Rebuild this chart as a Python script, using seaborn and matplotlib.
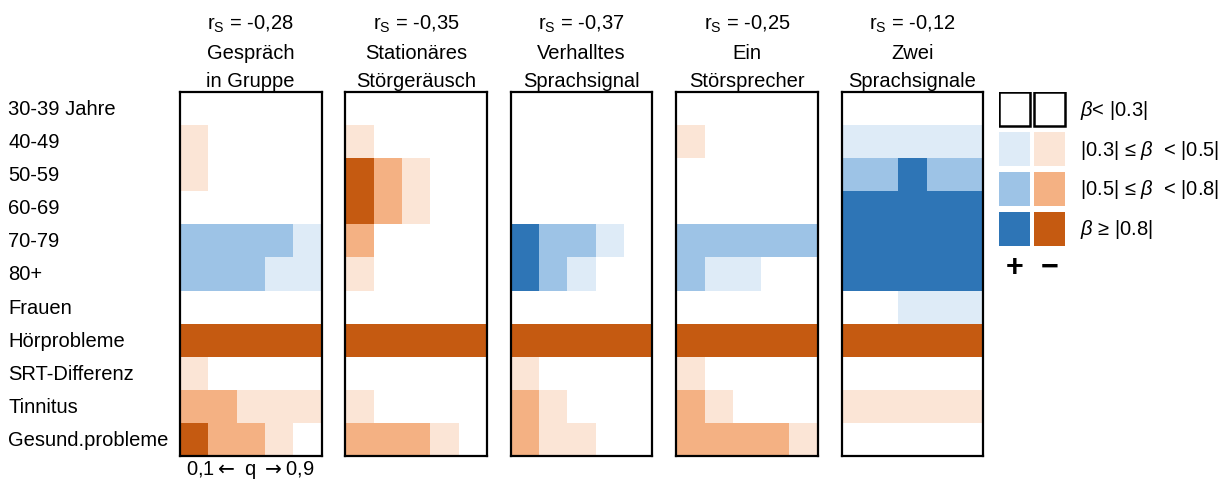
import matplotlib
matplotlib.use("Agg")
import numpy as np
import pandas as pd
import matplotlib.pyplot as plt
from matplotlib.colors import ListedColormap
from matplotlib.patches import Rectangle
import seaborn as sns

# ---------------------------------------------------------------- data
predictors = ["30-39 Jahre", "40-49", "50-59", "60-69", "70-79", "80+",
              "Frauen", "Hörprobleme", "SRT-Differenz", "Tinnitus",
              "Gesund.probleme"]
quantiles = ["0,1", "0,3", "0,5", "0,7", "0,9"]
situations = ["Gespräch\nin Gruppe", "Stationäres\nStörgeräusch",
              "Verhalltes\nSprachsignal", "Ein\nStörsprecher",
              "Zwei\nSprachsignale"]
spearman = ["-0,28", "-0,35", "-0,37", "-0,25", "-0,12"]

# effect class per predictor (rows) and quantile (columns):
# sign = direction of beta, 1: |0.3|-|0.5|, 2: |0.5|-|0.8|, 3: >= |0.8|
gespraech_gruppe = [
    [0, 0, 0, 0, 0],
    [-1, 0, 0, 0, 0],
    [-1, 0, 0, 0, 0],
    [0, 0, 0, 0, 0],
    [2, 2, 2, 2, 1],
    [2, 2, 2, 1, 1],
    [0, 0, 0, 0, 0],
    [-3, -3, -3, -3, -3],
    [-1, 0, 0, 0, 0],
    [-2, -2, -1, -1, -1],
    [-3, -2, -2, -1, 0],
]
stationaer = [
    [0, 0, 0, 0, 0],
    [-1, 0, 0, 0, 0],
    [-3, -2, -1, 0, 0],
    [-3, -2, -1, 0, 0],
    [-2, 0, 0, 0, 0],
    [-1, 0, 0, 0, 0],
    [0, 0, 0, 0, 0],
    [-3, -3, -3, -3, -3],
    [0, 0, 0, 0, 0],
    [-1, 0, 0, 0, 0],
    [-2, -2, -2, -1, 0],
]
verhallt = [
    [0, 0, 0, 0, 0],
    [0, 0, 0, 0, 0],
    [0, 0, 0, 0, 0],
    [0, 0, 0, 0, 0],
    [3, 2, 2, 1, 0],
    [3, 2, 1, 0, 0],
    [0, 0, 0, 0, 0],
    [-3, -3, -3, -3, -3],
    [-1, 0, 0, 0, 0],
    [-2, -1, 0, 0, 0],
    [-2, -1, -1, 0, 0],
]
ein_stoersprecher = [
    [0, 0, 0, 0, 0],
    [-1, 0, 0, 0, 0],
    [0, 0, 0, 0, 0],
    [0, 0, 0, 0, 0],
    [2, 2, 2, 2, 2],
    [2, 1, 1, 0, 0],
    [0, 0, 0, 0, 0],
    [-3, -3, -3, -3, -3],
    [-1, 0, 0, 0, 0],
    [-2, -1, 0, 0, 0],
    [-2, -2, -2, -2, -1],
]
zwei_sprachsignale = [
    [0, 0, 0, 0, 0],
    [1, 1, 1, 1, 1],
    [2, 2, 3, 2, 2],
    [3, 3, 3, 3, 3],
    [3, 3, 3, 3, 3],
    [3, 3, 3, 3, 3],
    [0, 0, 1, 1, 1],
    [-3, -3, -3, -3, -3],
    [0, 0, 0, 0, 0],
    [-1, -1, -1, -1, -1],
    [0, 0, 0, 0, 0],
]
panels = [gespraech_gruppe, stationaer, verhallt, ein_stoersprecher,
          zwei_sprachsignale]

legend_labels = [r"$\beta$< |0.3|", r"|0.3| ≤ $\beta$  < |0.5|",
                 r"|0.5| ≤ $\beta$  < |0.8|", r"$\beta$ ≥ |0.8|"]

# ---------------------------------------------------------------- style
sns.set_style("white")
plt.rcParams["font.family"] = ["Liberation Sans", "DejaVu Sans"]
plt.rcParams["mathtext.fontset"] = "custom"
plt.rcParams["mathtext.rm"] = "Liberation Sans"
plt.rcParams["mathtext.it"] = "Liberation Sans:italic"
plt.rcParams["text.color"] = "black"
plt.rcParams["ytick.color"] = "black"
plt.rcParams["ytick.labelcolor"] = "black"
FS = 14.5

# colours for classes -3 .. +3
palette = ["#C55A11", "#F4B183", "#FBE5D6", "#FFFFFF",
           "#DEEBF7", "#9DC3E6", "#2E75B6"]
cmap = ListedColormap(palette)

W, H = 1228, 485
fig = plt.figure(figsize=(W / 100, H / 100), dpi=100)

top_px, bot_px = 93, 457
pw = 141.5
lefts = [180 + i * 165.4 for i in range(5)]

for i, (grid, name, rs) in enumerate(zip(panels, situations, spearman)):
    ax = fig.add_axes([lefts[i] / W, 1 - bot_px / H, pw / W,
                       (bot_px - top_px) / H])
    df = pd.DataFrame(grid, index=predictors, columns=quantiles)
    sns.heatmap(df, ax=ax, cmap=cmap, vmin=-3.5, vmax=3.5, cbar=False,
                xticklabels=False,
                yticklabels=predictors if i == 0 else False)
    for sp in ax.spines.values():
        sp.set_visible(True)
        sp.set_color("black")
        sp.set_linewidth(1.6)
    ax.tick_params(axis="both", length=0)
    if i == 0:
        ax.tick_params(axis="y", pad=(180 - 8) * 0.72)
        for t in ax.get_yticklabels():
            t.set_rotation(0)
            t.set_ha("left")
            t.set_fontsize(FS)
            t.set_color("black")
        ax.text(0.5, -0.036, r"0,1${\leftarrow}$ q ${\rightarrow}$0,9",
                transform=ax.transAxes, ha="center", va="center",
                fontsize=FS, math_fontfamily="dejavusans")
    hpx = bot_px - top_px
    line2, line3 = name.split("\n")
    ax.text(0.5, 1 + 63 / hpx, r"r$_\mathrm{S}$ = " + rs,
            transform=ax.transAxes, ha="center", va="baseline", fontsize=FS)
    ax.text(0.5, 1 + 34 / hpx, line2, transform=ax.transAxes,
            ha="center", va="baseline", fontsize=FS)
    ax.text(0.5, 1 + 6 / hpx, line3, transform=ax.transAxes,
            ha="center", va="baseline", fontsize=FS)

# ---------------------------------------------------------------- legend
lx0, ly0 = 999, 93
cw, ch, dx, dy = 31, 34, 35, 40
lax = fig.add_axes([lx0 / W, 1 - (ly0 + 4 * dy) / H, 2 * dx / W, 4 * dy / H])
lax.set_xlim(0, 2 * dx)
lax.set_ylim(4 * dy, 0)
lax.axis("off")
for r in range(4):
    for c, sign in enumerate([1, -1]):
        level = sign * r
        color = palette[level + 3]
        edge = "black" if r == 0 else "none"
        lax.add_patch(Rectangle((c * dx, r * dy), cw, ch, facecolor=color,
                                edgecolor=edge, linewidth=1.8))
    fig.text(1080 / W, 1 - (ly0 + r * dy + ch / 2) / H, legend_labels[r],
             ha="left", va="center", fontsize=FS)
fig.text((lx0 + cw / 2) / W, 1 - 268 / H, "+", ha="center", va="center",
         fontsize=22, fontweight="bold")
fig.text((lx0 + dx + cw / 2) / W, 1 - 268 / H, "−", ha="center",
         va="center", fontsize=22, fontweight="bold")

fig.savefig("out.png", dpi=100)
